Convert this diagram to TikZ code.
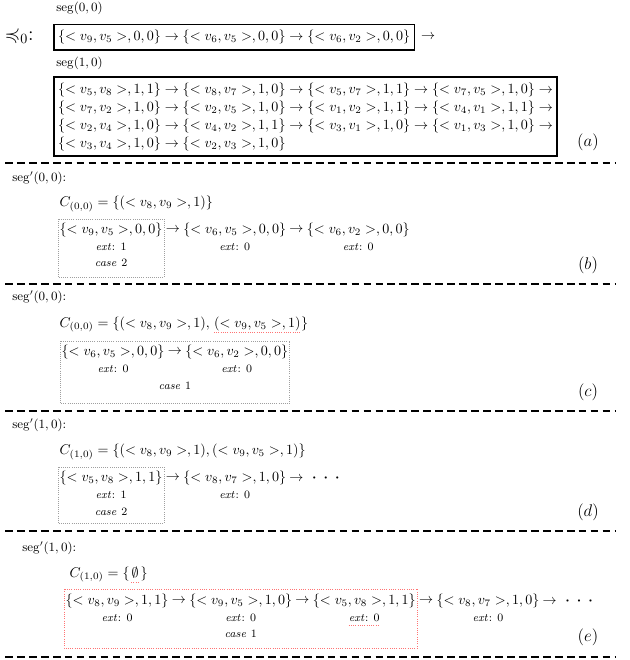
\documentclass[tikz,border=0pt]{standalone}
\usepackage{amsmath,amssymb}
\usetikzlibrary{positioning}
\newcommand{\edg}[4]{\{< v_{#1}, v_{#2} >, #3, #4\}}
\newcommand{\extlab}[1]{$\mathit{ext}$: #1}
\newcommand{\caselab}[1]{$\mathit{case}$ #1}
\newcommand{\moredots}{\boldsymbol{\cdot}\;\boldsymbol{\cdot}\;\boldsymbol{\cdot}}

\begin{document}
\begin{tikzpicture}[x=0.025cm,y=-0.025cm,
  every node/.style={inner sep=1pt},
  lbl/.style={font=\small,anchor=west,inner sep=0pt},
  row/.style={anchor=west},
  small/.style={font=\footnotesize,inner sep=0pt},
  segbox/.style={draw,line width=1.2pt,inner xsep=3pt,inner ysep=4pt},
  probe/.style={draw=gray!75,densely dotted,line width=.5pt},
  hit/.style={draw=red!55,densely dotted,line width=.6pt},
  sepline/.style={line width=1.3pt,dash pattern=on 5.5pt off 3pt},
  tag/.style={font=\large}]
\useasboundingbox (0,0) rectangle (630,660);
\node[lbl] (s00) at (56,8) {$\mathrm{seg}(0,0)$};
\node[anchor=west,font=\Large] (ord) at (3,36) {$\preccurlyeq_0$:};
\node[row,segbox] (a1) at (53,37) {$\edg{9}{5}{0}{0} \to \edg{6}{5}{0}{0} \to \edg{6}{2}{0}{0}$};
\node[right=3pt of a1] (a1n) {$\to$};
\node[lbl] (s10) at (56,63) {$\mathrm{seg}(1,0)$};
\node[segbox,anchor=north west,align=left,font=\fontsize{10}{12.8}\selectfont] (a2) at (53,76) {%
$\edg{5}{8}{1}{1} \to \edg{8}{7}{1}{0} \to \edg{5}{7}{1}{1} \to \edg{7}{5}{1}{0} \to$\\
$\edg{7}{2}{1}{0} \to \edg{2}{5}{1}{0} \to \edg{1}{2}{1}{1} \to \edg{4}{1}{1}{1} \to$\\
$\edg{2}{4}{1}{0} \to \edg{4}{2}{1}{1} \to \edg{3}{1}{1}{0} \to \edg{1}{3}{1}{0} \to$\\
$\edg{3}{4}{1}{0} \to \edg{2}{3}{1}{0}$};
\node[tag] (ta) at (588,142) {$(a)$};
\draw[sepline] (5,163) -- (615,163);

\node[lbl] (sb) at (12,178) {$\mathrm{seg}'(0,0)$:};
\node[row] (cb) at (58,204) {$C_{(0,0)} = \{(< v_8, v_9 >, 1)\}$};
\node[row] (b1) at (58,230) {$\edg{9}{5}{0}{0}$};
\node[right=0pt of b1] (b1a) {$\to$};
\node[right=0pt of b1a] (b2) {$\edg{6}{5}{0}{0}$};
\node[right=0pt of b2] (b2a) {$\to$};
\node[right=0pt of b2a] (b3) {$\edg{6}{2}{0}{0}$};
\node[small] (b1x) at (b1.center |- 0,247) {\extlab{1}};
\node[small] (b2x) at (b2.center |- 0,247) {\extlab{0}};
\node[small] (b3x) at (b3.center |- 0,247) {\extlab{0}};
\node[small] (b1c) at (b1.center |- 0,263) {\caselab{2}};
\draw[probe] (b1.west |- 0,219) rectangle (b1.east |- 0,277);
\node[tag] (tb) at (588,265) {$(b)$};
\draw[sepline] (5,284) -- (615,284);

\node[lbl] (sc) at (12,297) {$\mathrm{seg}'(0,0)$:};
\node[anchor=base west] (cc) at (58,327) {$C_{(0,0)} = \{(< v_8, v_9 >, 1),\,$};
\node[anchor=base west,inner sep=0pt] (cc2) at (cc.base east) {$(< v_9, v_5 >, 1)$};
\node[anchor=base west,inner sep=0pt] (cc3) at (cc2.base east) {$\}$};
\draw[hit] ([yshift=-4pt]cc2.base west) -- ([yshift=-4pt]cc2.base east);
\node[row] (c1) at (60,352) {$\edg{6}{5}{0}{0}$};
\node[right=0pt of c1] (c1a) {$\to$};
\node[right=0pt of c1a] (c2) {$\edg{6}{2}{0}{0}$};
\node[small] (c1x) at (c1.center |- 0,369) {\extlab{0}};
\node[small] (c2x) at (c2.center |- 0,369) {\extlab{0}};
\node[small] (c1c) at (c1a.center |- 0,386) {\caselab{1}};
\draw[probe] (c1.west |- 0,341) rectangle (c2.east |- 0,403);
\node[tag] (tc) at (588,392) {$(c)$};
\draw[sepline] (5,411) -- (615,411);

\node[lbl] (sd) at (12,425) {$\mathrm{seg}'(1,0)$:};
\node[row] (cd) at (58,452) {$C_{(1,0)} = \{(< v_8, v_9 >, 1), (< v_9, v_5 >, 1)\}$};
\node[row] (d1) at (58,478) {$\edg{5}{8}{1}{1}$};
\node[right=0pt of d1] (d1a) {$\to$};
\node[right=0pt of d1a] (d2) {$\edg{8}{7}{1}{0}$};
\node[right=0pt of d2] (d2a) {$\to\ \moredots$};
\node[small] (d1x) at (d1.center |- 0,495) {\extlab{1}};
\node[small] (d2x) at (d2.center |- 0,495) {\extlab{0}};
\node[small] (d1c) at (d1.center |- 0,512) {\caselab{2}};
\draw[probe] (d1.west |- 0,467) rectangle (d1.east |- 0,523);
\node[tag] (td) at (588,512) {$(d)$};
\draw[sepline] (5,531) -- (615,531);

\node[lbl] (se) at (22,548) {$\mathrm{seg}'(1,0)$:};
\node[anchor=base west] (ce) at (68,577) {$C_{(1,0)} = \{$};
\node[anchor=base west,inner sep=0pt] (ce2) at (ce.base east) {$\emptyset$};
\node[anchor=base west,inner sep=1pt] (ce3) at (ce2.base east) {$\}$};
\draw[hit] ([yshift=-4pt]ce2.base west) -- ([yshift=-4pt]ce2.base east);
\node[row] (e1) at (64,601) {$\edg{8}{9}{1}{1}$};
\node[right=0pt of e1] (e1a) {$\to$};
\node[right=0pt of e1a] (e2) {$\edg{9}{5}{1}{0}$};
\node[right=0pt of e2] (e2a) {$\to$};
\node[right=0pt of e2a] (e3) {$\edg{5}{8}{1}{1}$};
\node[right=0pt of e3] (e3a) {$\to$};
\node[right=0pt of e3a] (e4) {$\edg{8}{7}{1}{0}$};
\node[right=0pt of e4] (e4a) {$\to\ \moredots$};
\node[small] (e1x) at (e1.center |- 0,618) {\extlab{0}};
\node[small] (e2x) at (e2.center |- 0,618) {\extlab{0}};
\node[small] (e3x) at (e3.center |- 0,618) {\extlab{0}};
\node[small] (e4x) at (e4.center |- 0,618) {\extlab{0}};
\draw[hit] ([yshift=-2pt]e3x.south west) -- ([yshift=-2pt]e3x.south east);
\node[small] (e2c) at (e2.center |- 0,634) {\caselab{1}};
\draw[hit] (e1.west |- 0,589) rectangle (e3.east |- 0,648);
\node[tag] (te) at (588,637) {$(e)$};
\draw[sepline] (5,657) -- (615,657);
\end{tikzpicture}
\end{document}
